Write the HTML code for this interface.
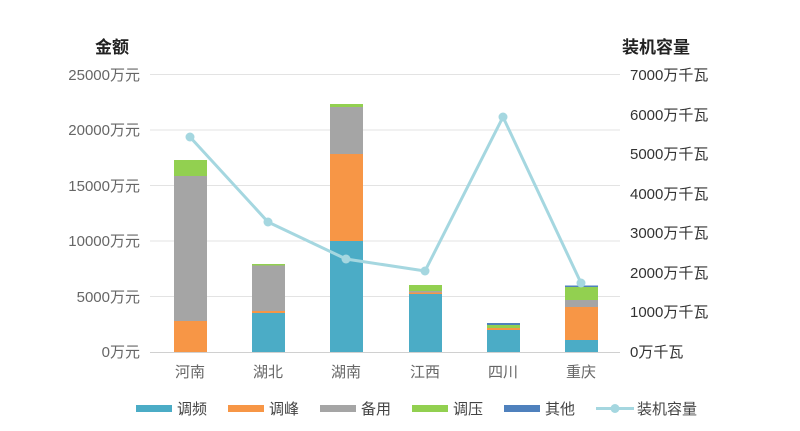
<!DOCTYPE html>
<html><head><meta charset="utf-8"><style>
body{margin:0;background:#fff;}
text{font-family:"Liberation Sans","Noto Sans CJK SC",sans-serif;}
</style></head><body>
<svg width="800" height="426" xmlns="http://www.w3.org/2000/svg">
<rect width="800" height="426" fill="#fff"/>
<text x="95" y="53" font-size="17" font-weight="bold" fill="#222">金额</text>
<text x="622" y="53" font-size="17" font-weight="bold" fill="#222">装机容量</text>
<g stroke="#e3e3e3" stroke-width="1">
<line x1="150" y1="74.5" x2="620" y2="74.5"/>
<line x1="150" y1="130" x2="620" y2="130"/>
<line x1="150" y1="185.5" x2="620" y2="185.5"/>
<line x1="150" y1="241" x2="620" y2="241"/>
<line x1="150" y1="296.5" x2="620" y2="296.5"/>
</g>
<line x1="150" y1="352.5" x2="620" y2="352.5" stroke="#d0d0d0"/>
<g font-size="15" fill="#666" text-anchor="end">
<text x="140" y="80">25000万元</text>
<text x="140" y="135">20000万元</text>
<text x="140" y="191">15000万元</text>
<text x="140" y="246">10000万元</text>
<text x="140" y="302">5000万元</text>
<text x="140" y="357">0万元</text>
</g>
<g font-size="15" fill="#333">
<text x="630" y="80">7000万千瓦</text>
<text x="630" y="120">6000万千瓦</text>
<text x="630" y="159">5000万千瓦</text>
<text x="630" y="199">4000万千瓦</text>
<text x="630" y="238">3000万千瓦</text>
<text x="630" y="278">2000万千瓦</text>
<text x="630" y="317">1000万千瓦</text>
<text x="630" y="357">0万千瓦</text>
</g>
<g font-size="15" fill="#666" text-anchor="middle">
<text x="190" y="377">河南</text><text x="268" y="377">湖北</text><text x="346" y="377">湖南</text>
<text x="425" y="377">江西</text><text x="503" y="377">四川</text><text x="581" y="377">重庆</text>
</g>
<!-- bars -->
<g>
<rect x="174" y="321" width="33" height="31" fill="#f79646"/>
<rect x="174" y="176" width="33" height="145" fill="#a5a5a5"/>
<rect x="174" y="160" width="33" height="16" fill="#92d050"/>

<rect x="252" y="313" width="33" height="39" fill="#4bacc6"/>
<rect x="252" y="311" width="33" height="2" fill="#f79646"/>
<rect x="252" y="265" width="33" height="46" fill="#a5a5a5"/>
<rect x="252" y="264" width="33" height="1.5" fill="#92d050"/>

<rect x="330" y="241" width="33" height="111" fill="#4bacc6"/>
<rect x="330" y="154" width="33" height="87" fill="#f79646"/>
<rect x="330" y="107" width="33" height="47" fill="#a5a5a5"/>
<rect x="330" y="104" width="33" height="3" fill="#92d050"/>

<rect x="409" y="294" width="33" height="58" fill="#4bacc6"/>
<rect x="409" y="292" width="33" height="2" fill="#f79646"/>
<rect x="409" y="291" width="33" height="1.5" fill="#a5a5a5"/>
<rect x="409" y="285" width="33" height="6" fill="#92d050"/>

<rect x="487" y="330" width="33" height="22" fill="#4bacc6"/>
<rect x="487" y="328" width="33" height="2" fill="#f79646"/>
<rect x="487" y="325" width="33" height="3" fill="#92d050"/>
<rect x="487" y="323" width="33" height="2" fill="#4f81bd"/>

<rect x="565" y="340" width="33" height="12" fill="#4bacc6"/>
<rect x="565" y="307" width="33" height="33" fill="#f79646"/>
<rect x="565" y="300" width="33" height="7" fill="#a5a5a5"/>
<rect x="565" y="287" width="33" height="13" fill="#92d050"/>
<rect x="565" y="285.5" width="33" height="1.5" fill="#4f81bd"/>
</g>
<polyline points="190,137 268,222 346,259 425,271 503,117 581,283" fill="none" stroke="#a5d7e0" stroke-width="3"/>
<g fill="#a5d7e0">
<circle cx="190" cy="137" r="4.5"/><circle cx="268" cy="222" r="4.5"/><circle cx="346" cy="259" r="4.5"/>
<circle cx="425" cy="271" r="4.5"/><circle cx="503" cy="117" r="4.5"/><circle cx="581" cy="283" r="4.5"/>
</g>
<!-- legend -->
<g font-size="15" fill="#444">
<rect x="136" y="405" width="36" height="7" fill="#4bacc6"/><text x="177" y="414">调频</text>
<rect x="228" y="405" width="36" height="7" fill="#f79646"/><text x="269" y="414">调峰</text>
<rect x="320" y="405" width="36" height="7" fill="#a5a5a5"/><text x="361" y="414">备用</text>
<rect x="412" y="405" width="36" height="7" fill="#92d050"/><text x="453" y="414">调压</text>
<rect x="504" y="405" width="36" height="7" fill="#4f81bd"/><text x="545" y="414">其他</text>
<line x1="596" y1="408.5" x2="634" y2="408.5" stroke="#a5d7e0" stroke-width="3"/><circle cx="615" cy="408.5" r="4.5" fill="#a5d7e0"/>
<text x="637" y="414">装机容量</text>
</g>
</svg>
</body></html>
